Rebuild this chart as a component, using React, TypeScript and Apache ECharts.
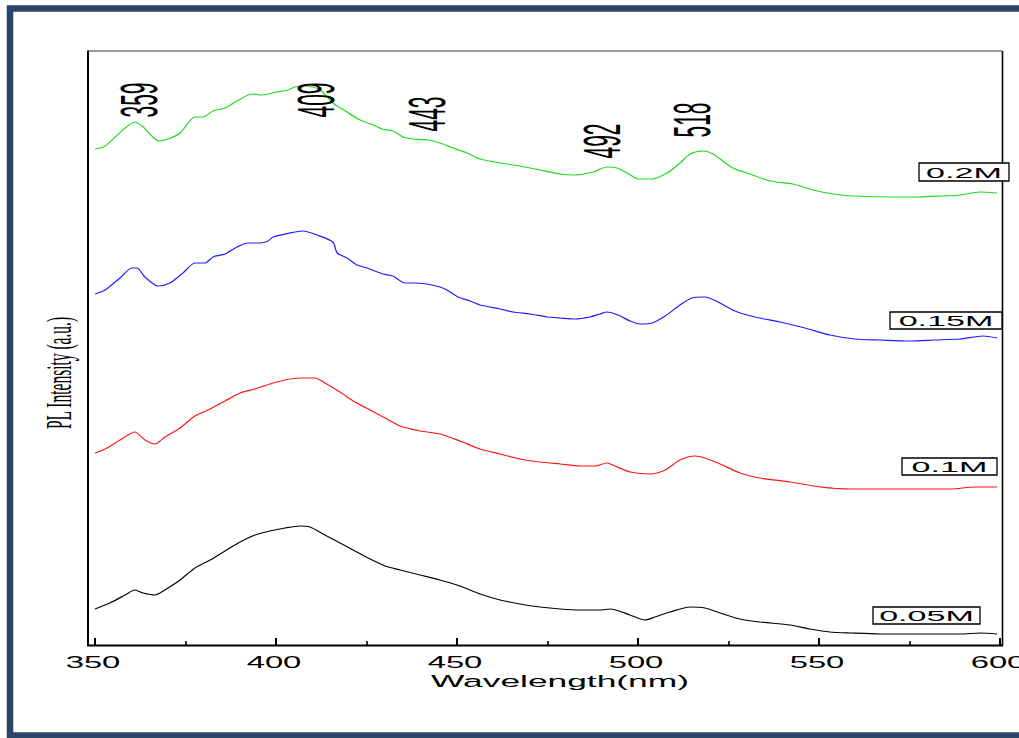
import React, { useEffect, useRef } from 'react';
import * as echarts from 'echarts';

// ---------- data ----------
const xTicks = [350, 400, 450, 500, 550, 600];
const seriesNames = ['0.05M', '0.1M', '0.15M', '0.2M'];
const peakLabels = ['359', '409', '443', '492', '518'];

// 0.05M (black)
const wl005 = [350, 354.1, 358.3, 361, 363.3, 366.6, 369.3, 373.5, 377.6, 381.8, 385.9, 390.1, 394.2, 398.3, 402.5, 406.6, 409.4, 413.5, 417.7, 421.8, 426, 430.1, 434.3, 439.8, 445.3, 450.8, 456.4, 461.9, 467.4, 472.9, 478.5, 484, 489.5, 492.3, 497.8, 501.9, 504.7, 508.8, 514.4, 518.5, 522.7, 528.2, 533.7, 542, 547.5, 553, 558.6, 566.9, 577.9, 589, 594.5, 599.2];
const pl005 = [36, 42, 50, 55, 52, 50, 55, 65, 77, 85, 94, 103, 110, 114, 117, 119, 118, 110, 102, 94, 86, 79, 75, 70, 65, 59, 51, 45, 41, 38, 36, 35, 35, 36, 30, 25, 28, 33, 38, 37, 32, 26, 23, 20, 16, 13, 12, 11, 11, 11, 12, 11];

// 0.1M (red)
const wl01 = [350, 352.8, 356.9, 361, 363.8, 366.6, 369.3, 373.5, 377.6, 381.8, 385.9, 390.1, 394.2, 398.3, 402.5, 406.6, 410.8, 413.5, 417.7, 421.8, 426, 430.1, 434.3, 439.8, 445.3, 450.8, 456.4, 461.9, 467.4, 472.9, 478.5, 484, 488.1, 491.4, 493.6, 497.8, 503.3, 507.5, 511.6, 515.7, 518.5, 522.7, 528.2, 533.7, 542, 550.3, 558.6, 566.9, 577.9, 586.2, 593.1, 599.2];
const pl01 = [192, 196, 205, 213, 205, 201, 208, 217, 229, 236, 244, 252, 256, 261, 265, 267, 267, 262, 253, 243, 235, 227, 219, 214, 211, 204, 196, 191, 186, 183, 181, 179, 179, 182, 179, 173, 171, 175, 185, 189, 187, 181, 172, 167, 163, 158, 156, 156, 156, 156, 158, 158];

// 0.15M (blue)
const wl015 = [350, 352.8, 356.9, 360.2, 361.6, 363.8, 367.4, 370.7, 374.3, 377.6, 380.4, 382.6, 385.9, 389.2, 392.3, 395.6, 397.8, 399.2, 403.9, 407.5, 411.3, 415.7, 416.9, 419.6, 422.4, 425.1, 429.6, 432.3, 435.6, 437.8, 441.7, 445.3, 447.2, 450.3, 453.6, 456.4, 461.9, 465.5, 470.2, 475.1, 478.5, 482.6, 486.7, 489.5, 491.4, 494.5, 497.8, 500.6, 503.9, 507.5, 511.6, 514.9, 518.5, 522.1, 526.8, 532.3, 539.2, 546.1, 553, 559.9, 566.9, 575.1, 582, 589, 595.3, 599.2];
const pl015 = [351, 355, 367, 377, 377, 368, 359, 362, 372, 382, 382, 388, 391, 398, 402, 402, 404, 408, 412, 414, 410, 403, 392, 387, 380, 377, 371, 369, 362, 362, 361, 358, 355, 348, 344, 340, 336, 333, 331, 328, 327, 326, 328, 331, 333, 330, 324, 321, 322, 329, 340, 347, 348, 343, 334, 328, 323, 317, 310, 306, 305, 304, 305, 306, 309, 307];

// 0.2M (green)
const wl02 = [350, 352.8, 357.7, 361, 363.3, 365.7, 367.7, 370.2, 373.5, 377.6, 379.8, 382.6, 385.9, 389.2, 393.4, 396.1, 400.3, 403.3, 405.2, 407.5, 410.2, 412.2, 414.4, 415.7, 419.6, 423.2, 426.8, 429.3, 432.3, 435.1, 437.8, 442, 445.3, 448.9, 452.8, 456.4, 461.9, 467.4, 472.9, 478.5, 482.6, 487.6, 491.4, 494.2, 497, 500, 503.9, 508, 511.6, 514.4, 518, 520.7, 526.2, 530.9, 536.5, 542.8, 548.3, 553.9, 559.4, 570.4, 577.1, 584.3, 589, 594.5, 599.2];
const pl02 = [496, 499, 515, 523, 518, 509, 504, 506, 512, 528, 528, 534, 537, 544, 551, 550, 553, 555, 558, 559, 558, 555, 547, 542, 533, 525, 520, 516, 514, 508, 506, 505, 502, 497, 492, 486, 482, 479, 475, 471, 470, 473, 478, 477, 472, 466, 466, 472, 482, 491, 494, 491, 477, 471, 464, 461, 455, 451, 449, 448, 448, 449, 450, 453, 452];

const seriesWl = [wl005, wl01, wl015, wl02];
const seriesPl = [pl005, pl01, pl015, pl02];

// ---------- styles / layout ----------
const colors = ['#000000', '#ff1414', '#1c1cff', '#1edc1e'];
const SANS = '"Liberation Sans", Arial, sans-serif';
const SERIF = '"Liberation Serif", "Times New Roman", serif';

const boxLayout = [
  { x: 873, y: 607, w: 107, h: 17 },
  { x: 902, y: 458, w: 95, h: 17 },
  { x: 890, y: 312, w: 112, h: 17 },
  { x: 919, y: 163, w: 90, h: 18 },
];
const peakLayout = [
  { x: 139, y: 100 },
  { x: 316, y: 100 },
  { x: 427, y: 114 },
  { x: 602, y: 141 },
  { x: 692, y: 120 },
];

function stretchedText(id: string, text: string, x: number, y: number, size: number, sx: number, family = SANS, extra: any = {}) {
  return {
    type: 'text',
    id,
    x,
    y,
    scaleX: sx,
    z: 20,
    silent: true,
    style: {
      text,
      fill: '#000',
      font: `${size}px ${family}`,
      align: 'center',
      verticalAlign: 'middle',
      textAlign: 'center',
      textVerticalAlign: 'middle',
    },
    ...extra,
  };
}

export default function App() {
  const ref = useRef<HTMLDivElement>(null);

  useEffect(() => {
    const chart = echarts.init(ref.current!, null, { renderer: 'svg' });

    const series = seriesNames.map((name, i) => ({
      name,
      type: 'line',
      data: seriesWl[i].map((w, k) => [w, seriesPl[i][k]]),
      showSymbol: false,
      smooth: 0.25,
      lineStyle: { color: colors[i], width: 1.2 },
      itemStyle: { color: colors[i] },
      z: 5,
    }));

    const baseGraphic: any[] = [
      // outer dark frame
      { type: 'rect', id: 'outer', shape: { x: 10, y: 8.5, width: 1030, height: 727 }, style: { fill: 'none', stroke: '#2b4669', lineWidth: 6.5 }, z: 30, silent: true },
      // plot frame
      { type: 'line', id: 'fl', shape: { x1: 88, y1: 50.5, x2: 88, y2: 646 }, style: { stroke: '#000', lineWidth: 2 }, z: 8, silent: true },
      { type: 'line', id: 'fb', shape: { x1: 87, y1: 645.5, x2: 1003, y2: 645.5 }, style: { stroke: '#000', lineWidth: 2.2 }, z: 8, silent: true },
      { type: 'line', id: 'ft', shape: { x1: 88, y1: 51, x2: 1002, y2: 51 }, style: { stroke: '#333', lineWidth: 1.2 }, z: 8, silent: true },
      { type: 'line', id: 'fr', shape: { x1: 1002.5, y1: 51, x2: 1002.5, y2: 646 }, style: { stroke: '#000', lineWidth: 1.6 }, z: 8, silent: true },
      // axis titles
      stretchedText('xname', 'Wavelength(nm)', 560, 681, 17, 2.08),
      {
        type: 'text', id: 'yname', x: 59, y: 373, rotation: Math.PI / 2, scaleY: 2.25, z: 20, silent: true,
        style: { text: 'PL Intensity (a.u.)', fill: '#000', font: `15.5px ${SERIF}`, align: 'center', verticalAlign: 'middle', textAlign: 'center', textVerticalAlign: 'middle' },
      },
    ];

    peakLabels.forEach((t, i) => {
      baseGraphic.push({
        type: 'text', id: 'peak' + i, x: peakLayout[i].x, y: peakLayout[i].y, rotation: Math.PI / 2, scaleY: 2.45, z: 20, silent: true,
        style: { text: t, fill: '#000', font: `21px ${SANS}`, align: 'center', verticalAlign: 'middle', textAlign: 'center', textVerticalAlign: 'middle' },
      });
    });

    seriesNames.forEach((name, i) => {
      const b = boxLayout[i];
      baseGraphic.push({
        type: 'rect', id: 'box' + i, shape: { x: b.x, y: b.y, width: b.w, height: b.h },
        style: { fill: '#fff', stroke: '#000', lineWidth: 1.3 }, z: 15, silent: true,
      });
      baseGraphic.push(stretchedText('boxt' + i, name, b.x + b.w / 2, b.y + b.h / 2 + 0.5, 15.5, 2.2));
    });

    const option: any = {
      animation: false,
      backgroundColor: '#ffffff',
      grid: { left: 95, right: 19, top: 45, bottom: 93 },
      xAxis: {
        type: 'value',
        min: 350,
        max: 600,
        interval: 50,
        axisLine: { show: false },
        axisTick: { show: true, inside: true, length: 7, lineStyle: { color: '#000', width: 2 } },
        minorTick: { show: true, splitNumber: 2, length: 4, lineStyle: { color: '#000', width: 1.6 } },
        axisLabel: { show: false },
        splitLine: { show: false },
        minorSplitLine: { show: false },
      },
      yAxis: {
        type: 'value',
        min: 0,
        max: 600,
        show: false,
        splitLine: { show: false },
      },
      series,
      graphic: { elements: baseGraphic },
    };

    chart.setOption(option);

    const tickGraphic = xTicks.map((v, i) => {
      const px = chart.convertToPixel({ xAxisIndex: 0 }, v) as number;
      return stretchedText('tick' + i, String(v), px - 2, 662, 16, 2.05);
    });
    chart.setOption({ graphic: { elements: [...baseGraphic, ...tickGraphic] } });

    return () => chart.dispose();
  }, []);

  return (
    <div
      ref={ref}
      style={{ position: 'fixed', left: 0, top: 0, width: 1019, height: 738, background: '#fff' }}
    />
  );
}
